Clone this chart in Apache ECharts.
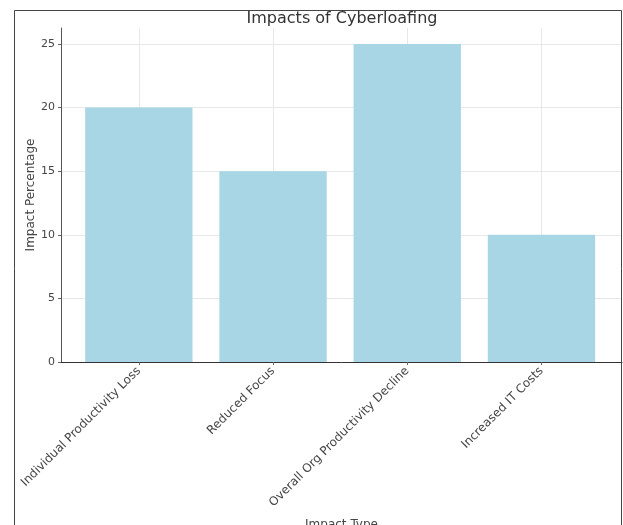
<!DOCTYPE html>
<html>
<head>
<meta charset="utf-8">
<script src="https://cdn.jsdelivr.net/npm/echarts@6/dist/echarts.min.js"></script>
<style>
html,body{margin:0;padding:0;background:#fff;}
#chart{width:623px;height:525px;}
</style>
</head>
<body>
<div id="chart"></div>
<script>
const categories = ["Individual Productivity Loss", "Reduced Focus", "Overall Org Productivity Decline", "Increased IT Costs"];
const values = [20, 15, 25, 10];
const yTicks = [0, 5, 10, 15, 20, 25];
const catPositions = [0, 1, 2, 3];

const FONT = "DejaVu Sans";
const chart = echarts.init(document.getElementById('chart'), null, {renderer: 'canvas'});
chart.setOption({
  animation: false,
  backgroundColor: '#ffffff',
  textStyle: {fontFamily: FONT},
  title: {
    text: 'Impacts of Cyberloafing',
    left: 337,
    textAlign: 'center',
    top: 6,
    textStyle: {fontFamily: FONT, fontSize: 16, fontWeight: 'normal', color: '#333'}
  },
  graphic: [{
    type: 'rect',
    shape: {x: 14.5, y: 10.5, width: 607, height: 540},
    style: {fill: 'none', stroke: '#444', lineWidth: 1},
    silent: true,
    z: 100
  }],
  grid: {left: 61, right: 1, top: 28, bottom: 163, containLabel: false, outerBoundsMode: 'none'},
  xAxis: {
    type: 'value',
    min: -0.58,
    max: 3.6,
    name: 'Impact Type',
    nameLocation: 'middle',
    nameGap: 157,
    nameMoveOverlap: false,
    nameTextStyle: {fontFamily: FONT, fontSize: 12, color: '#444', verticalAlign: 'top'},
    axisLine: {show: true, onZero: false, lineStyle: {color: '#333', width: 1}},
    axisTick: {show: true, customValues: catPositions, length: 3, lineStyle: {color: '#666'}},
    axisLabel: {
      customValues: catPositions,
      rotate: 45,
      margin: 7,
      fontFamily: FONT,
      fontSize: 12,
      color: '#444',
      formatter: function (v) { return categories[Math.round(v)] || ''; }
    },
    splitLine: {show: true, lineStyle: {color: '#e8e8e8', width: 1}}
  },
  yAxis: {
    type: 'value',
    min: 0,
    max: 26.25,
    name: 'Impact Percentage',
    nameLocation: 'middle',
    nameGap: 30,
    nameMoveOverlap: false,
    nameTextStyle: {fontFamily: FONT, fontSize: 12, color: '#444', verticalAlign: 'middle'},
    axisLine: {show: true, onZero: false, lineStyle: {color: '#555', width: 1}},
    axisTick: {show: true, customValues: yTicks, length: 3, lineStyle: {color: '#666'}},
    axisLabel: {customValues: yTicks, margin: 6, fontFamily: FONT, fontSize: 11, color: '#444'},
    splitLine: {show: true, lineStyle: {color: '#e8e8e8', width: 1}}
  },
  series: [{
    type: 'bar',
    data: catPositions.map((p, i) => [p, values[i]]),
    barWidth: '80%',
    itemStyle: {color: '#a9d6e4'}
  }]
});
</script>
</body>
</html>
